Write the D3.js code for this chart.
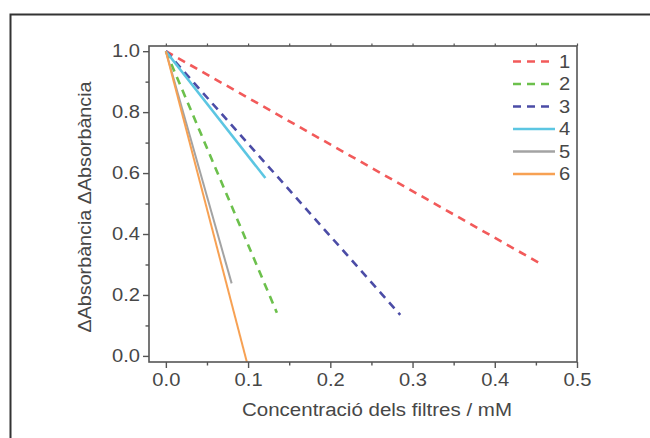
<!DOCTYPE html>
<html><head><meta charset="utf-8">
<script src="https://cdn.jsdelivr.net/npm/d3@7"></script>
<style>body{margin:0;background:#fff}svg{display:block}text{font-family:"Liberation Sans",Arial,sans-serif}</style>
</head><body><svg id="c" width="650" height="438"></svg>
<script>
const seriesNames = ["1","2","3","4","5","6"];
const seriesColors = ["#f25a5a","#6cc04c","#4b4ca6","#5cc6e2","#a3a3a3","#f7a153"];
const seriesDashed = [true,true,true,false,false,false];
const startPoint = [0, 1.0];
const endX = [0.456, 0.135, 0.285, 0.121, 0.080, 0.0985];
const endY = [0.302, 0.142, 0.135, 0.584, 0.238, -0.02];
const xTicks = [0.0, 0.1, 0.2, 0.3, 0.4, 0.5];
const yTicks = [0.0, 0.2, 0.4, 0.6, 0.8, 1.0];
const xMinor = [0.05, 0.15, 0.25, 0.35, 0.45];
const yMinor = [0.1, 0.3, 0.5, 0.7, 0.9];
const xTitle = "Concentració dels filtres / mM";
const yTitle = "ΔAbsorbància ΔAbsorbància";

const svg = d3.select("#c");
const L = 149, R = 577, T = 46, B = 362;
const x = d3.scaleLinear().domain([-0.0205, 0.5]).range([L, R]);
const y = d3.scaleLinear().domain([-0.02, 1.017]).range([B, T]);
const axisCol = "#555", txtCol = "#474747";

// outer frame
svg.append("rect").attr("x",10.5).attr("y",14.5).attr("width",660).attr("height",440)
  .attr("fill","none").attr("stroke","#333").attr("stroke-width",2);

// lines
const g = svg.append("g");
seriesNames.forEach((n,i)=>{
  g.append("line")
    .attr("x1", x(startPoint[0])).attr("y1", y(startPoint[1]))
    .attr("x2", x(endX[i])).attr("y2", y(endY[i]))
    .attr("stroke", seriesColors[i])
    .attr("stroke-width", seriesDashed[i] ? 2.6 : (i===3 ? 2.6 : 2))
    .attr("stroke-dasharray", seriesDashed[i] ? "8,6" : null);
});

// frame
svg.append("rect").attr("x",L).attr("y",T).attr("width",R-L).attr("height",B-T)
  .attr("fill","none").attr("stroke",axisCol).attr("stroke-width",1.6);

// bottom axis
const xa = svg.append("g").attr("transform",`translate(0,${B})`)
  .call(d3.axisBottom(x).tickValues(xTicks).tickFormat(d3.format(".1f")).tickSize(6).tickSizeOuter(0));
xa.select(".domain").remove();
xa.selectAll("line").attr("stroke",axisCol).attr("stroke-width",1.4);
xa.selectAll("text").attr("y",11).attr("font-size",18).attr("fill",txtCol)
  .attr("transform","scale(1.12,1)").attr("dy","0.71em");
xa.selectAll(".tick").filter(d=>d===0.5).select("text").text("0.5");
svg.append("g").attr("transform",`translate(0,${B})`)
  .call(d3.axisBottom(x).tickValues(xMinor).tickFormat("").tickSize(3.5).tickSizeOuter(0))
  .call(s=>{s.select(".domain").remove();s.selectAll("line").attr("stroke",axisCol).attr("stroke-width",1.4);});
// top minor ticks
svg.append("g").attr("transform",`translate(0,${T})`)
  .call(d3.axisTop(x).tickValues(xTicks.concat(xMinor)).tickFormat("").tickSize(2.5).tickSizeOuter(0))
  .call(s=>{s.select(".domain").remove();s.selectAll("line").attr("stroke",axisCol).attr("stroke-width",1.2);});

// left axis
const ya = svg.append("g").attr("transform",`translate(${L},0)`)
  .call(d3.axisLeft(y).tickValues(yTicks).tickFormat(d3.format(".1f")).tickSize(6).tickSizeOuter(0));
ya.select(".domain").remove();
ya.selectAll("line").attr("stroke",axisCol).attr("stroke-width",1.4);
ya.selectAll("text").attr("x",-8).attr("font-size",18).attr("fill",txtCol)
  .attr("transform","scale(1.12,1)");
svg.append("g").attr("transform",`translate(${L},0)`)
  .call(d3.axisLeft(y).tickValues(yMinor).tickFormat("").tickSize(3.5).tickSizeOuter(0))
  .call(s=>{s.select(".domain").remove();s.selectAll("line").attr("stroke",axisCol).attr("stroke-width",1.4);});

// titles
svg.append("text").attr("x",377).attr("y",416).attr("text-anchor","middle")
  .attr("font-size",18).attr("fill",txtCol).attr("textLength",270).attr("lengthAdjust","spacingAndGlyphs")
  .text(xTitle);
svg.append("text").attr("transform","translate(91,207) rotate(-90)").attr("text-anchor","middle")
  .attr("font-size",18).attr("fill",txtCol).attr("textLength",251).attr("lengthAdjust","spacingAndGlyphs")
  .text(yTitle);

// legend
const legY = d3.scaleLinear().domain([0,5]).range([61.5,174]);
seriesNames.forEach((n,i)=>{
  const yy = legY(i);
  svg.append("line").attr("x1",513).attr("x2", seriesDashed[i]?549:555).attr("y1",yy).attr("y2",yy)
    .attr("stroke",seriesColors[i]).attr("stroke-width",2.6)
    .attr("stroke-dasharray", seriesDashed[i] ? "8,6" : null);
  svg.append("text").attr("x",559/1.12).attr("y",yy).attr("dy","0.36em")
    .attr("transform","scale(1.12,1)")
    .attr("font-size",18).attr("fill",txtCol).text(n);
});
</script></body></html>
